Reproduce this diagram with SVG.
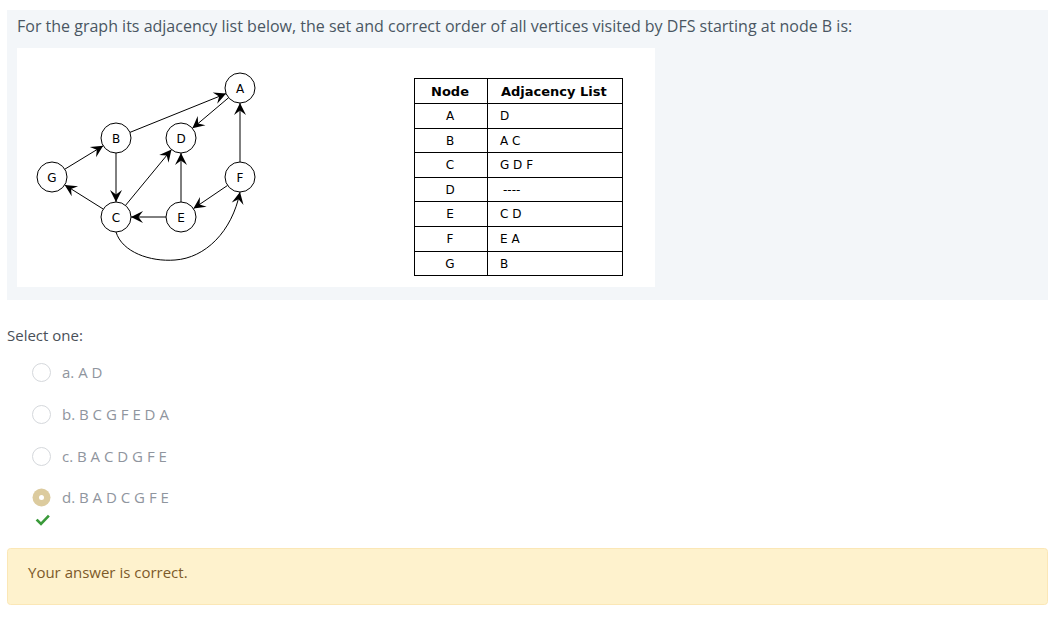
<svg xmlns="http://www.w3.org/2000/svg" width="1061" height="625" viewBox="0 0 1061 625">
<defs>
<style>
.q{font-family:"Open Sans","Liberation Sans",sans-serif;}
.node circle{fill:#fff;stroke:#000;stroke-width:1;}
.node text{font-family:"DejaVu Sans",Verdana,sans-serif;font-size:12px;text-anchor:middle;fill:#000;}
.edge{fill:none;stroke:#000;stroke-width:1;marker-end:url(#arr);}
.cell{fill:none;stroke:#000;stroke-width:1;}
.th{font-family:"DejaVu Sans",Verdana,sans-serif;font-size:13px;font-weight:bold;fill:#000;}
.td{font-family:"DejaVu Sans",Verdana,sans-serif;font-size:12px;fill:#000;}
.opt{font-family:"Open Sans","Liberation Sans",sans-serif;font-size:15px;fill:#8f959e;}
.radio{fill:#fff;stroke:#d5d8dc;stroke-width:1;}
</style>
<marker id="arr" markerUnits="userSpaceOnUse" markerWidth="14" markerHeight="14" viewBox="-13 -7 14 14" refX="0" refY="0" orient="auto">
<path d="M0,0 L-12,-6 L-7.5,0 L-12,6 Z" fill="#000"/>
</marker>
</defs>
<rect x="0" y="0" width="1061" height="625" fill="#fff"/>
<rect x="7" y="10" width="1041" height="290" fill="#f3f6f9"/>
<text class="q" x="17" y="32" font-size="16" fill="#4a5663">For the graph its adjacency list below, the set and correct order of all vertices visited by DFS starting at node B is:</text>
<rect x="17" y="48" width="638" height="239" fill="#fff"/>

<g id="connectors">
<line class="edge" x1="64.8" y1="169.2" x2="103.2" y2="145.8"/>
<line class="edge" x1="129.9" y1="132.4" x2="226.1" y2="93.6"/>
<line class="edge" x1="228.6" y1="97.7" x2="192.4" y2="128.3"/>
<line class="edge" x1="116" y1="153" x2="116" y2="202"/>
<line class="edge" x1="103.3" y1="209.1" x2="64.7" y2="184.9"/>
<line class="edge" x1="125.5" y1="205.4" x2="171.5" y2="149.6"/>
<line class="edge" x1="181" y1="202" x2="181" y2="153"/>
<line class="edge" x1="166" y1="217" x2="131" y2="217"/>
<line class="edge" x1="227.6" y1="185.4" x2="193.4" y2="208.6"/>
<line class="edge" x1="240" y1="162" x2="240" y2="103"/>
<path class="edge" d="M116,232 C122,252 150,262 175,260 C205,258 232,232 240,192"/>
</g>

<g id="node-A" class="node"><circle cx="240" cy="88" r="15"/><text x="240" y="92.5">A</text></g>
<g id="node-B" class="node"><circle cx="116" cy="138" r="15"/><text x="116" y="142.5">B</text></g>
<g id="node-D" class="node"><circle cx="181" cy="138" r="15"/><text x="181" y="142.5">D</text></g>
<g id="node-G" class="node"><circle cx="52" cy="177" r="15"/><text x="52" y="181.5">G</text></g>
<g id="node-F" class="node"><circle cx="240" cy="177" r="15"/><text x="240" y="181.5">F</text></g>
<g id="node-C" class="node"><circle cx="116" cy="217" r="15"/><text x="116" y="221.5">C</text></g>
<g id="node-E" class="node"><circle cx="181" cy="217" r="15"/><text x="181" y="221.5">E</text></g>

<g id="table">
<rect class="cell" x="414.5" y="78.5" width="208" height="197"/>
<line class="cell" x1="487.5" y1="78.5" x2="487.5" y2="275.5"/>
<line class="cell" x1="414.5" y1="103.5" x2="622.5" y2="103.5"/>
<line class="cell" x1="414.5" y1="128.5" x2="622.5" y2="128.5"/>
<line class="cell" x1="414.5" y1="152.5" x2="622.5" y2="152.5"/>
<line class="cell" x1="414.5" y1="177.5" x2="622.5" y2="177.5"/>
<line class="cell" x1="414.5" y1="201.5" x2="622.5" y2="201.5"/>
<line class="cell" x1="414.5" y1="226.5" x2="622.5" y2="226.5"/>
<line class="cell" x1="414.5" y1="251.5" x2="622.5" y2="251.5"/>
<text class="th" x="450" y="96" text-anchor="middle">Node</text>
<text class="th" x="501" y="96">Adjacency List</text>
<g class="td" text-anchor="middle">
<text x="450" y="120">A</text>
<text x="450" y="145">B</text>
<text x="450" y="169">C</text>
<text x="450" y="194">D</text>
<text x="450" y="218">E</text>
<text x="450" y="243">F</text>
<text x="450" y="268">G</text>
</g>
<text class="td" x="500" y="120">D</text>
<text class="td" x="500" y="145">A C</text>
<text class="td" x="500" y="169">G D F</text>
<text class="td" x="503" y="194">----</text>
<text class="td" x="500" y="218">C D</text>
<text class="td" x="500" y="243">E A</text>
<text class="td" x="500" y="268">B</text>
</g>

<text class="q" x="7" y="341" font-size="15" fill="#4a5058">Select one:</text>
<g id="opt-a"><circle class="radio" cx="41.5" cy="372.5" r="9"/><text class="opt" x="62" y="378">a. A D</text></g>
<g id="opt-b"><circle class="radio" cx="41.5" cy="414.5" r="9"/><text class="opt" x="62" y="420">b. B C G F E D A</text></g>
<g id="opt-c"><circle class="radio" cx="41.5" cy="456.5" r="9"/><text class="opt" x="62" y="462">c. B A C D G F E</text></g>
<g id="opt-d"><circle cx="41.5" cy="497.5" r="9" fill="#dccb9e"/><circle cx="41.5" cy="497.5" r="2.5" fill="#fff"/><text class="opt" x="62" y="503">d. B A D C G F E</text></g>
<path d="M37.5,520.5 L41,524 L48,516.5" fill="none" stroke="#3a9a3a" stroke-width="2.6" stroke-linecap="square"/>

<rect x="7.5" y="548.5" width="1040" height="56" rx="3" fill="#fef2cd" stroke="#fbe7b6"/>
<text class="q" x="28" y="578" font-size="15" fill="#7d5a29">Your answer is correct.</text>
</svg>
